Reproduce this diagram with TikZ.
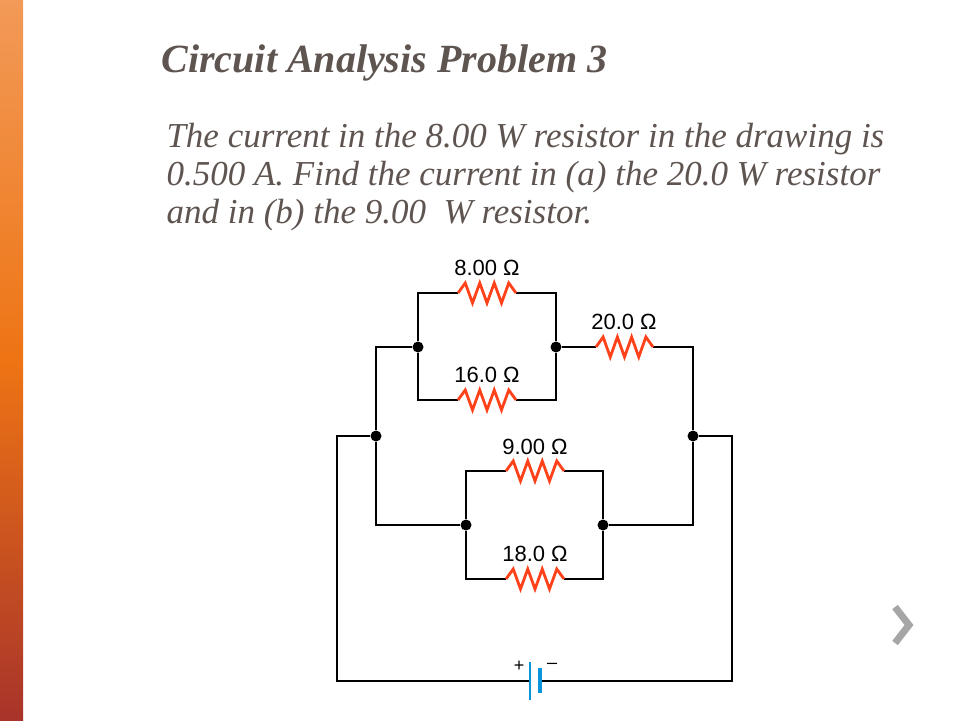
\documentclass[tikz,border=0pt]{standalone}
\usepackage{fontspec}
\setmainfont{Liberation Serif}
\setsansfont{Liberation Sans}
\begin{document}
\begin{tikzpicture}[x=1pt,y=-1pt,
wire/.style={%
draw=black,
line width=2.8pt,
},
res/.style={%
draw=red!65!orange!90,
line width=2.8pt,
},
val/.style={%
font={\sffamily\fontsize{22pt}{26}\selectfont},
anchor=center,
},
dot/.style={%
circle,
fill=black,
inner sep=0,
minimum size=11pt,
},
body/.style={%
font={\itshape\fontsize{35pt}{38}\selectfont},
text=textgray,
anchor=base west,
}
]
\definecolor{textgray}{HTML}{5E5450}
\definecolor{bartop}{HTML}{F29A58}
\definecolor{barmid}{HTML}{EE7414}
\definecolor{barbot}{HTML}{A8342A}
\useasboundingbox (0,0) rectangle (960,720);
\fill[white] (0,0) rectangle (960,720);
% side bar
\shade[top color=bartop, bottom color=barbot, middle color=barmid] (0,0) rectangle (23,720);

% texts
\node[body,font={\bfseries\itshape\fontsize{40pt}{44}\selectfont}] (title) at (158,72) {Circuit Analysis Problem 3};
\node[body,align=left,anchor=north west] (text) at (163,120) {The current in the 8.00 W resistor in the drawing is\\0.500 A. Find the current in (a) the 20.0 W resistor\\and in (b) the 9.00\ \ W resistor.};

% circuit
\fill[white] (337,253) rectangle (735,700);

% junctions
\node[dot] (ja) at (418,347) {};
\node[dot] (jb) at (556,347) {};
\node[dot] (jc) at (376,436) {};
\node[dot] (jd) at (693,436) {};
\node[dot] (je) at (466,525) {};
\node[dot] (jf) at (603,525) {};
\coordinate (bp) at (530,681);
\coordinate (bm) at (539,681);

\newcommand{\zig}[3]{%
\draw[res] (#1,#3) \foreach \k in {1,...,7} {-- ({#1+(#2-#1)*\k/8},{#3+(mod(\k,2)==1 ? -10 : 10)})} -- (#2,#3);}

% 8.00 and 16.0
\draw[wire] (ja) |- (458,293) (516,293) -| (jb);
\draw[wire] (ja) |- (458,400) (516,400) -| (jb);
\zig{458}{516}{293}
\zig{458}{516}{400}
% 20.0
\draw[wire] (jb) -- (596,347) (653,347) -| (jd);
\zig{596}{653}{347}
% 9.00 and 18.0
\draw[wire] (je) |- (506,471) (564,471) -| (jf);
\draw[wire] (je) |- (506,579) (564,579) -| (jf);
\zig{506}{564}{471}
\zig{506}{564}{579}
% outer loop
\draw[wire] (ja) -| (jc) |- (je);
\draw[wire] (jf) -| (jd);
\draw[wire] (jc) -| (337,681) -- (bp);
\draw[wire] (jd) -| (732,681) -- (bm);
\draw[cyan!80!blue, line width=1.2pt] (530,662) -- (530,700);
\draw[cyan!80!blue, line width=4.5pt] (540,668) -- (540,693);
\node[val,font={\sffamily\fontsize{18pt}{20}\selectfont}] (plus) at (519,666) {+};
\node[val,font={\sffamily\fontsize{18pt}{20}\selectfont}] (minus) at (552,666) {--};

\node[val] (r8) at (487,268) {8.00 Ω};
\node[val] (r16) at (487,375) {16.0 Ω};
\node[val] (r20) at (624,322) {20.0 Ω};
\node[val] (r9) at (535,447) {9.00 Ω};
\node[val] (r18) at (535,554) {18.0 Ω};

% next arrow
\draw[gray!70, line width=7pt, line join=miter] (895,607) -- (909,625) -- (895,643);
\end{tikzpicture}
\end{document}
